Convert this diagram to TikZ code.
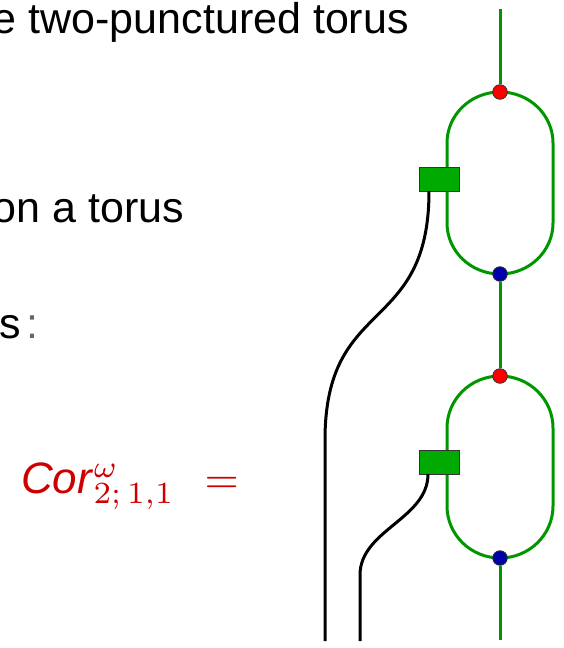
\documentclass[tikz,border=0pt]{standalone}
\usepackage[no-math]{fontspec}
\setmainfont{Liberation Sans}
\begin{document}
\begin{tikzpicture}[x=1pt,y=-1pt,
  txt/.style={inner sep=0pt,font=\fontsize{43}{50}\selectfont},
  gwire/.style={draw=gline,line width=3pt},
  wire/.style={draw=black,line width=3pt},
  gbox/.style={draw=black!80,line width=1pt,fill=gfill,minimum width=40pt,minimum height=24pt,inner sep=0pt,outer sep=0pt},
  rdot/.style={circle,draw=black!80,line width=0.8pt,fill=red,minimum size=14.6pt,inner sep=0pt},
  bdot/.style={circle,draw=black!80,line width=0.8pt,fill=bfill,minimum size=14.6pt,inner sep=0pt}]
\definecolor{gline}{RGB}{0,150,0}
\definecolor{gfill}{RGB}{0,170,0}
\definecolor{bfill}{RGB}{0,0,170}
\definecolor{cred}{RGB}{204,0,0}
\useasboundingbox (0,0) rectangle (563,648);
\clip (0,0) rectangle (563,648);
% texts
\node[txt,anchor=base east] (l1) at (409,33) {e two-punctured torus};
\node[txt,anchor=base east] (l2) at (184,222) {on a torus};
\node[txt,anchor=base east] (l3) at (39,338) {s\hspace{5.5pt}\textcolor{black!60}{:}};
\node[inner sep=0pt,anchor=base west,text=cred,font=\fontsize{10}{12}\selectfont] (cor) at (21,493)
  {\scalebox{4.4}{\textit{Cor}$^{\omega}_{2;\,1,1}\hspace{4pt}=$}};
% coordinates
\coordinate (top) at (500,9);
\coordinate (bot) at (500,640);
\coordinate (c1) at (500,92);
\coordinate (d1) at (500,274);
\coordinate (c2) at (500,376);
\coordinate (d2) at (500,558);
\coordinate (m1) at (325,440);
\coordinate (e1) at (325,641);
\coordinate (m2) at (360,575);
\coordinate (e2) at (360,641);
% green loops
\draw[gwire] (c1) arc[start angle=90,end angle=180,x radius=53pt,y radius=51pt] -- ++(0,80)
  arc[start angle=180,end angle=270,x radius=53pt,y radius=51pt]
  arc[start angle=270,end angle=360,x radius=53pt,y radius=51pt] -- ++(0,-80)
  arc[start angle=0,end angle=90,x radius=53pt,y radius=51pt];
\draw[gwire] (c2) arc[start angle=90,end angle=180,x radius=53pt,y radius=52pt] -- ++(0,78)
  arc[start angle=180,end angle=270,x radius=53pt,y radius=52pt]
  arc[start angle=270,end angle=360,x radius=53pt,y radius=52pt] -- ++(0,-78)
  arc[start angle=0,end angle=90,x radius=53pt,y radius=52pt];
% nodes
\node[gbox] (b1) at (439,179) {};
\node[gbox] (b2) at (439,462) {};
\node[rdot] (r1) at (c1) {};
\node[bdot] (u1) at (d1) {};
\node[rdot] (r2) at (c2) {};
\node[bdot] (u2) at (d2) {};
% green vertical connectors
\draw[gwire] (top) -- (r1);
\draw[gwire] (u1) -- (r2);
\draw[gwire] (u2) -- (bot);
% black wires
\draw[wire] ([xshift=-10pt]b1.south) .. controls +(0,145) and +(0,-145) .. (m1) -- (e1);
\draw[wire] ([xshift=-11pt]b2.south) .. controls +(0,45) and +(0,-45) .. (m2) -- (e2);
\end{tikzpicture}
\end{document}
